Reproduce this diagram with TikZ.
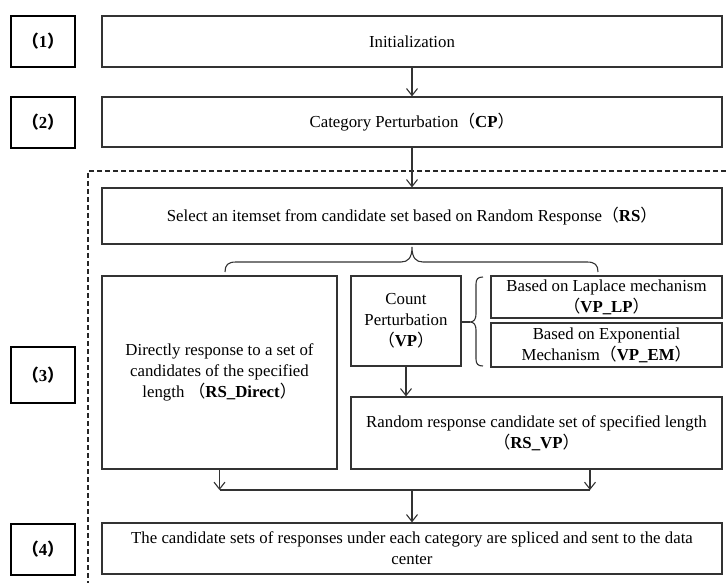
\documentclass[tikz,border=0pt]{standalone}
\usepackage{fontspec}
\setmainfont{Liberation Serif}
\newfontfamily\cjk{Noto Sans CJK SC}
\usetikzlibrary{arrows.meta}
\newcommand\zkl{{\cjk （}}
\newcommand\zkr{{\cjk ）}}
\begin{document}
\begin{tikzpicture}[x=1pt,y=-1pt,
  box/.style={draw=black!80, line width=1.2pt, inner sep=0pt, align=center,
    font=\fontsize{16.8}{21}\selectfont},
  lab/.style={draw=black, line width=1.8pt, inner sep=0pt, minimum width=64pt,
    align=center, font=\fontsize{16.8}{21}\selectfont\bfseries},
  conn/.style={draw=black!80, line width=1.1pt},
  arr/.style={conn, -{Straight Barb[length=7pt,width=11pt]}},
  dashbox/.style={draw=black!85, line width=1.1pt, dash pattern=on 5pt off 3pt}
]
\useasboundingbox (0,0) rectangle (726,583);

% step labels
\node[lab, minimum height=51pt] (l1) at (43,41.5) {\zkl 1\zkr};
\node[lab, minimum height=51pt] (l2) at (43,122.5) {\zkl 2\zkr};
\node[lab, minimum height=56pt] (l3) at (43,375) {\zkl 3\zkr};
\node[lab, minimum height=51pt] (l4) at (43,549.5) {\zkl 4\zkr};

% dashed frame
\draw[dashbox] (726,171) -- (88,171) -- (88,583);

% boxes
\node[box, minimum width=620pt, minimum height=51pt] (init) at (412,41.5) {Initialization};
\node[box, minimum width=620pt, minimum height=50pt] (cp) at (412,122) {Category Perturbation\zkl\textbf{CP}\zkr};
\node[box, minimum width=620pt, minimum height=56pt] (rs) at (412,216) {Select an itemset from candidate set based on Random Response\zkl\textbf{RS}\zkr};
\node[box, minimum width=235pt, minimum height=193pt] (direct) at (219.5,372.5) {Directly response to a set of\\candidates of the specified\\length \zkl\textbf{RS\_Direct}\zkr};
\node[box, minimum width=110pt, minimum height=90pt] (vp) at (406,321) {Count\\Perturbation\\\zkl\textbf{VP}\zkr};
\node[box, minimum width=231pt, minimum height=42pt] (lp) at (606.5,297) {Based on Laplace mechanism\\\zkl\textbf{VP\_LP}\zkr};
\node[box, minimum width=231pt, minimum height=44pt] (em) at (606.5,345) {Based on Exponential\\Mechanism\zkl\textbf{VP\_EM}\zkr};
\node[box, minimum width=371pt, minimum height=72pt] (rsvp) at (536.5,433) {Random response candidate set of specified length\\\zkl\textbf{RS\_VP}\zkr};
\node[box, minimum width=620pt, minimum height=51pt] (final) at (412,548.5) {The candidate sets of responses under each category are spliced and sent to the data\\center};

% connectors
\draw[arr] (init.south) -- (cp.north);
\draw[arr] (cp.south) -- (rs.north);
\draw[arr] (vp.south) -- (vp.south |- rsvp.north);

\coordinate (mL) at (direct.south |- 0,490);
\coordinate (mR) at (590,490);
\coordinate (mC) at (final.north |- 0,490);
\draw[arr] (direct.south) -- (mL);
\draw[arr] (mR |- rsvp.south) -- (mR);
\draw[conn] (mL) -- (mR);
\draw[arr] (mC) -- (final.north);

% big brace
\coordinate (bL) at (225,272);
\coordinate (bR) at (598,272);
\coordinate (bT) at (412,247);
\draw[conn] (bL) .. controls (225,265) and (228,262) .. (236,262) -- (401,262)
  .. controls (408,262) and (412,258) .. (bT)
  .. controls (412,258) and (416,262) .. (423,262) -- (587,262)
  .. controls (595,262) and (598,265) .. (bR);

% small brace
\coordinate (sT) at (483,277);
\coordinate (sB) at (483,366);
\draw[conn] (sT) .. controls (478,277) and (476,279) .. (476,284) -- (476,314)
  .. controls (476,319) and (474,322) .. (470,322)
  .. controls (474,322) and (476,325) .. (476,330) -- (476,359)
  .. controls (476,364) and (478,366) .. (sB);
\draw[conn] (vp.east |- 0,322) -- (470,322);
\end{tikzpicture}
\end{document}
